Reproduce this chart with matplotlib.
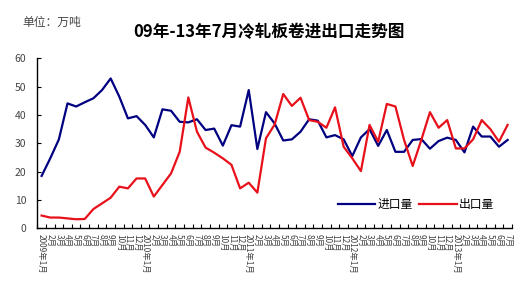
import numpy as np
import matplotlib
matplotlib.use("Agg")
import matplotlib.pyplot as plt

plt.rcParams['font.family'] = ['Noto Sans CJK SC', 'DejaVu Sans']

# 月份标签 2009年1月 - 2013年7月
labels = []
for y in range(2009, 2014):
    for m in range(1, 13):
        if y == 2013 and m > 7:
            break
        labels.append(f"{y}年{m}月" if m == 1 else f"{m}月")

# 进口量 (万吨)
imports = [18.5, 24.7, 31.4, 44.1, 43.0, 44.5, 45.9, 48.8, 52.9, 46.5,
           38.8, 39.6, 36.5, 32.1, 42.0, 41.5, 37.6, 37.4, 38.5, 34.7,
           35.2, 29.2, 36.4, 35.9, 48.8, 28.0, 41.0, 37.0, 31.0, 31.4,
           34.1, 38.5, 38.0, 32.1, 32.9, 31.4, 25.5, 32.1, 35.0, 29.1,
           34.7, 27.0, 27.0, 31.2, 31.5, 28.1, 30.8, 32.0, 31.2, 26.8,
           35.9, 32.4, 32.4, 28.8, 31.2]
# 出口量 (万吨)
exports = [4.5, 3.8, 3.8, 3.5, 3.2, 3.3, 6.8, 8.8, 10.8, 14.7,
           14.1, 17.6, 17.6, 11.2, 15.3, 19.4, 27.0, 46.2, 34.1, 28.5,
           26.7, 24.7, 22.4, 14.1, 16.1, 12.6, 31.8, 36.6, 47.4, 43.2,
           46.1, 38.2, 37.6, 35.5, 42.7, 28.8, 24.7, 20.2, 36.5, 30.6,
           43.9, 43.0, 31.2, 22.0, 31.2, 41.0, 35.5, 38.2, 28.2, 28.2,
           31.4, 38.2, 35.0, 30.6, 36.5]

x = np.arange(len(labels))

fig = plt.figure(figsize=(5.21, 2.86), dpi=100)
ax = fig.add_axes([0.0716, 0.2017, 0.911, 0.5943])

ax.plot(x, imports, color='#000080', lw=1.6, label='进口量')
ax.plot(x, exports, color='#E8101A', lw=1.6, label='出口量')

ax.set_xlim(-0.5, len(labels) - 0.5)
ax.set_ylim(0, 60)
ax.set_yticks(range(0, 61, 10))
ax.set_xticks(x)
ax.set_xticklabels(labels, rotation=270, fontsize=6, color='#444444',
                   va='top', ha='center')
ax.set_xticks(np.arange(-0.5, len(labels)), minor=True)
ax.tick_params(axis='x', which='major', length=0, pad=4)
ax.tick_params(axis='x', which='minor', direction='in', length=3, width=0.8)
ax.tick_params(axis='y', direction='in', length=3, width=0.8,
               labelsize=7.5, labelcolor='#444444', pad=8)
for s in ['top', 'right']:
    ax.spines[s].set_visible(False)
for s in ['left', 'bottom']:
    ax.spines[s].set_linewidth(1.0)
    ax.spines[s].set_color('black')

ax.legend(loc='lower right', bbox_to_anchor=(0.985, 0.04), ncol=2, frameon=False,
          fontsize=8.5, handlelength=3.2, handletextpad=0.2, columnspacing=0.5)

fig.text(0.516, 0.888, '09年-13年7月冷轧板卷进出口走势图', ha='center', va='center',
         fontsize=12, fontweight='bold')
fig.text(0.042, 0.92, '单位：万吨', ha='left', va='center', fontsize=8.5,
         color='#444444')

fig.savefig('out.png', dpi=100)
